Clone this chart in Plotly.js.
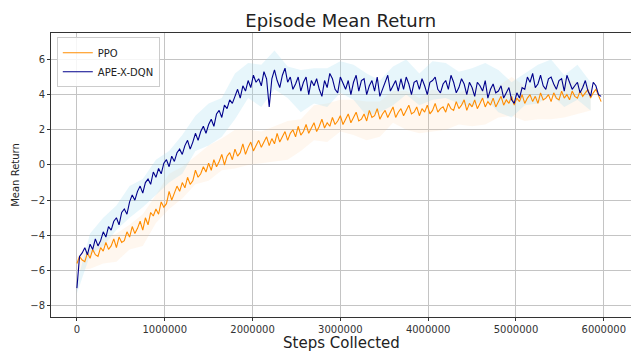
<!DOCTYPE html>
<html>
<head>
<meta charset="utf-8">
<script src="https://cdn.plot.ly/plotly-3.0.1.min.js"></script>
<style>
  html, body { margin: 0; padding: 0; background: #fff; }
  #chart { width: 631px; height: 351px; }
</style>
</head>
<body>
<div id="chart"></div>
<script>
// Training steps (thousands) at which the episode mean return was logged
const stepsK = [
  0, 30, 60, 90, 120, 150, 180, 210, 240, 270,
  300, 330, 360, 390, 420, 450, 480, 510, 540, 570,
  600, 630, 660, 690, 720, 750, 780, 810, 840, 870,
  900, 930, 960, 990, 1020, 1050, 1080, 1110, 1140, 1170,
  1200, 1230, 1260, 1290, 1320, 1350, 1380, 1410, 1440, 1470,
  1500, 1530, 1560, 1590, 1620, 1650, 1680, 1710, 1740, 1770,
  1800, 1830, 1860, 1890, 1920, 1950, 1980, 2010, 2040, 2070,
  2100, 2130, 2160, 2190, 2220, 2250, 2280, 2310, 2340, 2370,
  2400, 2430, 2460, 2490, 2520, 2550, 2580, 2610, 2640, 2670,
  2700, 2730, 2760, 2790, 2820, 2850, 2880, 2910, 2940, 2970,
  3000, 3030, 3060, 3090, 3120, 3150, 3180, 3210, 3240, 3270,
  3300, 3330, 3360, 3390, 3420, 3450, 3480, 3510, 3540, 3570,
  3600, 3630, 3660, 3690, 3720, 3750, 3780, 3810, 3840, 3870,
  3900, 3930, 3960, 3990, 4020, 4050, 4080, 4110, 4140, 4170,
  4200, 4230, 4260, 4290, 4320, 4350, 4380, 4410, 4440, 4470,
  4500, 4530, 4560, 4590, 4620, 4650, 4680, 4710, 4740, 4770,
  4800, 4830, 4860, 4890, 4920, 4950, 4980, 5010, 5040, 5070,
  5100, 5130, 5160, 5190, 5220, 5250, 5280, 5310, 5340, 5370,
  5400, 5430, 5460, 5490, 5520, 5550, 5580, 5610, 5640, 5670,
  5700, 5730, 5760, 5790, 5820, 5850, 5880, 5910, 5940, 5970
];

// Mean return per logged step
const apexReturn = [
  -7.0, -5.2, -5.0, -4.7, -5.1, -4.5, -4.8, -4.2, -4.6, -4.3,
  -3.8, -4.1, -3.5, -3.7, -3.2, -3.0, -3.4, -2.7, -2.5, -2.8,
  -2.1, -1.7, -2.0, -1.5, -1.2, -1.6, -1.0, -0.8, -1.1, -0.4,
  -0.7, -0.2, -0.5, 0.1, 0.3, -0.1, 0.5, 0.2, 0.7, 0.9,
  0.6, 1.1, 1.4, 0.9, 1.3, 1.8, 1.4, 1.9, 2.2, 1.8,
  2.3, 2.6, 2.2, 2.9, 3.1, 2.7, 3.4, 3.2, 3.7, 3.5,
  3.9, 4.3, 3.8, 4.5, 4.2, 4.8, 4.4, 5.1, 4.7, 4.9,
  4.5, 5.3, 4.9, 3.3, 4.9, 5.4, 4.8, 4.4, 5.1, 5.5,
  4.7, 5.0, 4.3, 4.6, 5.0, 4.2, 4.7, 5.0, 4.0, 4.8,
  4.5, 4.9, 4.3, 3.9, 4.8, 4.4, 5.2, 4.9, 4.3, 4.1,
  5.0, 4.6, 4.3, 4.8, 4.0, 4.7, 5.1, 4.2, 4.8, 4.9,
  4.0, 4.5, 4.8, 4.2, 5.0, 3.9, 4.3, 4.8, 5.1, 4.2,
  4.5, 4.8, 4.2, 4.9, 4.3, 5.0, 4.6, 4.0, 4.7, 4.8,
  4.3, 4.9, 4.5, 4.0, 4.7, 4.8, 5.0, 4.3, 4.1, 4.6,
  4.8, 4.3, 5.1, 4.7, 4.1, 4.4, 4.9, 4.6, 4.0, 4.7,
  4.4, 3.9, 4.7, 4.5, 4.2, 4.8, 3.8, 4.3, 4.6, 4.1,
  4.2, 4.5, 3.8, 4.1, 4.4, 3.7, 3.5, 4.1, 3.8, 4.4,
  4.3, 5.0, 4.7, 5.2, 4.4, 4.6, 5.1, 4.5, 4.3, 4.9,
  5.0, 4.6, 4.3, 4.8, 4.9, 4.2, 5.1, 4.7, 4.3, 4.5,
  4.7, 4.1, 4.4, 4.8, 4.2, 3.9, 4.7, 4.5, 4.0, 3.9
];

const ppoReturn = [
  -5.6, -5.2, -5.4, -5.5, -5.0, -5.3, -4.8, -5.1, -5.2, -4.7,
  -4.9, -4.4, -4.8, -4.6, -4.2, -4.7, -4.1, -4.4, -4.3, -3.8,
  -4.1, -3.5, -3.9, -3.6, -3.2, -3.7, -3.0, -3.4, -2.7, -2.9,
  -2.5, -2.8, -2.1, -2.4, -2.2, -1.5, -2.0, -1.6, -1.2, -1.5,
  -1.0, -1.3, -0.7, -1.1, -0.9, -0.3, -0.7, -0.5, -0.1, -0.4,
  0.1, -0.3, 0.3, -0.1, 0.2, 0.6, 0.0, 0.5, 0.7, 0.3,
  0.9, 0.5, 0.7, 1.2, 0.6, 1.0, 1.3, 0.8, 1.1, 1.4,
  1.0, 1.3, 1.6, 1.1, 1.5, 1.2, 1.8, 1.3, 1.6, 1.9,
  1.4, 1.8, 2.0, 1.6, 2.2, 1.7, 1.9, 2.3, 1.8, 2.1,
  2.4, 1.9, 2.2, 2.6, 2.1, 2.4, 2.2, 2.7, 2.3, 2.5,
  2.8, 2.3, 2.6, 2.9, 2.4, 2.7, 3.0, 2.5, 2.6, 2.9,
  2.5, 3.1, 2.7, 2.8, 3.2, 2.6, 2.9, 3.1, 2.7, 3.0,
  3.3, 2.7, 3.0, 3.2, 2.8, 3.1, 3.4, 2.9, 3.0, 3.3,
  2.8, 3.2, 3.0, 3.4, 2.9, 3.1, 3.5, 3.0, 3.2, 3.3,
  3.0, 3.5, 3.2, 3.1, 3.6, 3.2, 3.4, 3.7, 3.1, 3.5,
  3.3, 3.7, 3.2, 3.5, 3.8, 3.3, 3.6, 3.4, 3.8, 3.3,
  3.6, 3.9, 3.4, 3.7, 3.5, 3.9, 3.4, 3.8, 3.6, 4.0,
  3.5, 3.8, 4.0, 3.6, 3.9, 3.5, 4.1, 3.7, 3.8, 4.0,
  3.6, 4.1, 3.8, 3.7, 4.2, 3.8, 4.0, 3.7, 4.2, 3.9,
  3.8, 4.2, 3.9, 4.1, 4.3, 3.8, 4.1, 4.3, 3.9, 3.6
];

// Spread across runs, logged every 5th step (150k)
const apexSpread = [
  0.3, 0.6, 0.8, 0.7, 0.9, 0.8, 1.0, 0.9, 1.1, 1.0,
  1.2, 1.1, 1.3, 1.0, 1.2, 1.1, 0.9, 1.2, 1.0, 1.1,
  0.9, 1.0, 1.2, 0.9, 1.1, 1.0, 0.9, 1.1, 1.0, 0.9,
  1.1, 1.0, 1.2, 1.0, 0.9, 1.1, 1.0, 0.9, 1.0, 0.8
];
const ppoSpread = [
  0.4, 0.6, 0.7, 0.8, 0.7, 0.9, 0.8, 1.0, 0.9, 0.8,
  1.0, 0.9, 1.1, 1.0, 0.9, 1.0, 1.1, 0.9, 1.0, 1.1,
  0.9, 1.0, 1.1, 1.0, 0.9, 1.1, 1.0, 1.2, 1.0, 0.9,
  1.1, 1.0, 0.9, 1.1, 1.0, 0.9, 1.0, 1.1, 0.9, 0.7
];

const seriesNames = ['PPO', 'APE-X-DQN'];
const xTickVals = [0, 1000000, 2000000, 3000000, 4000000, 5000000, 6000000];
const yTickVals = [-8, -6, -4, -2, 0, 2, 4, 6];
const xAxisTitle = 'Steps Collected';

const steps = stepsK.map(k => k * 1000);

// Band built from the logged mean and its spread at every 5th step
function band(mean, spread) {
  const xs = [], lo = [], hi = [];
  spread.forEach((s, k) => {
    const i = Math.min(k * 5, mean.length - 1);
    xs.push(steps[i]);
    lo.push(mean[i] - s);
    hi.push(mean[i] + s);
  });
  return { xs, lo, hi };
}

const ppoBand = band(ppoReturn, ppoSpread);
const apexBand = band(apexReturn, apexSpread);

function bandTraces(b, color) {
  return [
    { x: b.xs, y: b.lo, type: 'scatter', mode: 'lines', line: { width: 0 },
      hoverinfo: 'skip', showlegend: false },
    { x: b.xs, y: b.hi, type: 'scatter', mode: 'lines', line: { width: 0 },
      fill: 'tonexty', fillcolor: color, hoverinfo: 'skip', showlegend: false }
  ];
}

const traces = [
  ...bandTraces(ppoBand, 'rgba(255,200,140,0.14)'),
  ...bandTraces(apexBand, 'rgba(160,220,238,0.25)'),
  { x: steps, y: ppoReturn, type: 'scatter', mode: 'lines', name: seriesNames[0],
    line: { color: '#ff8c00', width: 1.1 } },
  { x: steps, y: apexReturn, type: 'scatter', mode: 'lines', name: seriesNames[1],
    line: { color: '#00008b', width: 1.1 } }
];

const axisCommon = {
  showline: true, linecolor: '#333', linewidth: 1, mirror: true,
  ticks: 'outside', ticklen: 3, tickcolor: '#333', tickwidth: 1,
  showgrid: true, gridcolor: '#c4c4c4', gridwidth: 1,
  zeroline: false,
  tickfont: { family: 'DejaVu Sans', size: 10, color: '#333' }
};

const layout = {
  width: 631, height: 351,
  margin: { l: 51, r: 0, t: 33, b: 34 },
  paper_bgcolor: '#fff', plot_bgcolor: '#fff',
  font: { family: 'DejaVu Sans', color: '#222' },
  title: { text: 'Episode Mean Return', font: { family: 'DejaVu Sans', size: 18, color: '#222' },
           x: 0.54, xanchor: 'center', yref: 'container', y: 0.942, yanchor: 'middle' },
  xaxis: Object.assign({}, axisCommon, {
    range: [-295000, 6310000], tickvals: xTickVals, tickformat: 'd'
  }),
  yaxis: Object.assign({}, axisCommon, {
    range: [-8.64, 7.5], tickvals: yTickVals,
    title: { text: 'Mean Return', font: { family: 'DejaVu Sans', size: 10, color: '#222' }, standoff: 8 }
  }),
  // x-axis title sits low, just above the page edge
  annotations: [{
    text: xAxisTitle, xref: 'paper', yref: 'paper', x: 0.5, y: -0.092,
    xanchor: 'center', yanchor: 'middle', showarrow: false,
    font: { family: 'DejaVu Sans', size: 15, color: '#222' }
  }],
  legend: {
    x: 0.01, y: 0.985, xanchor: 'left', yanchor: 'top', traceorder: 'normal',
    bgcolor: 'rgba(255,255,255,0.85)', bordercolor: '#ccc', borderwidth: 1,
    font: { family: 'DejaVu Sans', size: 10, color: '#222' },
    tracegroupgap: 0, itemwidth: 30
  },
  showlegend: true
};

Plotly.newPlot('chart', traces, layout, { displayModeBar: false, staticPlot: true });
</script>
</body>
</html>
